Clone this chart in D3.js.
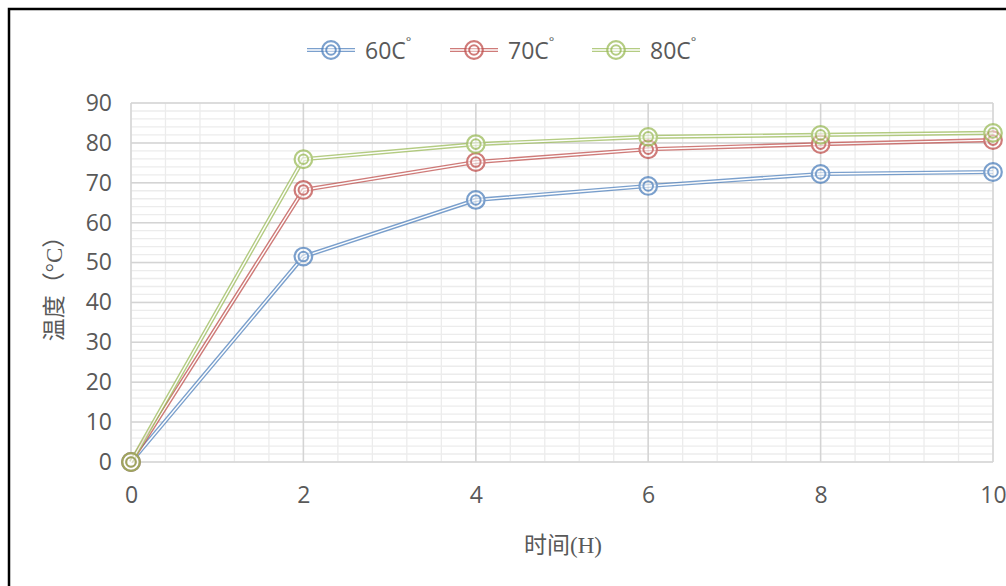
<!DOCTYPE html>
<html>
<head>
<meta charset="utf-8">
<script src="https://cdn.jsdelivr.net/npm/d3@7"></script>
<style>
  body { margin: 0; background: #fff; }
  svg { display: block; }
</style>
</head>
<body>
<svg width="1006" height="586"></svg>
<script>
const svg_ = d3.select('svg');

const W = 1006;
const H = 586;

// dados
const HOURS = [0, 2, 4, 6, 8, 10];
const SERIES_NAMES = ["60C", "70C", "80C"];
const T60 = [0, 51.5, 65.7, 69.2, 72.2, 72.7];
const T70 = [0, 68.2, 75.2, 78.4, 79.7, 80.7];
const T80 = [0, 75.9, 79.7, 81.5, 82.0, 82.5];
const COLORS = ["#4f81bd", "#c0504d", "#9bbb59"];

const X_TICKS = [0, 2, 4, 6, 8, 10];
const Y_TICKS = [0, 10, 20, 30, 40, 50, 60, 70, 80, 90];

const DIMS = {
    MARGINS: { TOP: 103, LEFT: 131, RIGHT: 1006 - 993, BOTTOM: 586 - 462 }
};

const x = d3.scaleLinear().domain([0, 10])
    .range([DIMS.MARGINS.LEFT, W - DIMS.MARGINS.RIGHT]);
const y = d3.scaleLinear().domain([0, 90])
    .range([H - DIMS.MARGINS.BOTTOM, DIMS.MARGINS.TOP]);

const FONT = "'Open Sans', 'Noto Sans', sans-serif";
const SERIF = "'Liberation Serif', 'Noto Sans CJK SC', serif";

// moldura
svg_.append("rect")
    .attr("x", 9).attr("y", 9)
    .attr("width", W + 20).attr("height", H + 20)
    .attr("fill", "none")
    .attr("stroke", "#000")
    .attr("stroke-width", 2.5);

// grade menor
const grid = svg_.append("g");

grid.selectAll("line.minor-x")
    .data(d3.range(0, 10.001, 0.4))
    .join("line")
    .attr("x1", d => x(d)).attr("x2", d => x(d))
    .attr("y1", y(0)).attr("y2", y(90))
    .attr("stroke", "#ececec").attr("stroke-width", 1.3);

grid.selectAll("line.minor-y")
    .data(d3.range(0, 90.001, 2))
    .join("line")
    .attr("x1", x(0)).attr("x2", x(10))
    .attr("y1", d => y(d)).attr("y2", d => y(d))
    .attr("stroke", "#ececec").attr("stroke-width", 1.3);

// grade maior
grid.append("g").selectAll("line")
    .data(X_TICKS)
    .join("line")
    .attr("x1", d => x(d)).attr("x2", d => x(d))
    .attr("y1", y(0)).attr("y2", y(90))
    .attr("stroke", "#d4d4d4").attr("stroke-width", 1.5);

grid.append("g").selectAll("line")
    .data(Y_TICKS)
    .join("line")
    .attr("x1", x(0)).attr("x2", x(10))
    .attr("y1", d => y(d)).attr("y2", d => y(d))
    .attr("stroke", "#d4d4d4").attr("stroke-width", 1.5);

// eixos
const xAxis = svg_.append("g")
    .attr("transform", `translate(0,${y(0)})`)
    .call(d3.axisBottom(x).tickValues(X_TICKS).tickSize(0).tickPadding(24));
const yAxis = svg_.append("g")
    .attr("transform", `translate(${x(0)},0)`)
    .call(d3.axisLeft(y).tickValues(Y_TICKS).tickSize(0).tickPadding(19));

[xAxis, yAxis].forEach(a => {
    a.select(".domain").remove();
    a.selectAll("text")
        .attr("font-family", FONT)
        .attr("font-size", 23)
        .attr("fill", "#595959");
});
xAxis.selectAll("text").attr("dy", "0.75em");

// titulos
svg_.append("text")
    .attr("x", 563).attr("y", 553)
    .attr("text-anchor", "middle")
    .attr("font-family", SERIF)
    .attr("font-size", 23)
    .attr("fill", "#595959")
    .text("时间(H)");

svg_.append("text")
    .attr("transform", `translate(62,283) rotate(-90)`)
    .attr("text-anchor", "middle")
    .attr("font-family", SERIF)
    .attr("font-size", 23)
    .attr("fill", "#595959")
    .text("温度（°C）");

// series
const series = [T60, T70, T80].map((vals, i) => ({
    name: SERIES_NAMES[i],
    color: COLORS[i],
    points: HOURS.map((h, j) => ({ h: h, t: vals[j] }))
}));

const line = d3.line().x(d => x(d.h)).y(d => y(d.t));

const seriesG = svg_.append("g")
    .selectAll("g")
    .data(series)
    .join("g")
    .attr("opacity", 0.75);

// linha dupla
seriesG.append("path")
    .attr("d", d => line(d.points))
    .attr("fill", "none")
    .attr("stroke", d => d.color)
    .attr("stroke-width", 4.2);
seriesG.append("path")
    .attr("d", d => line(d.points))
    .attr("fill", "none")
    .attr("stroke", "#fff")
    .attr("stroke-width", 1.4);

function marker(sel, color) {
    sel.append("circle").attr("r", 8.8)
        .attr("fill", "#fff").attr("fill-opacity", 0.6)
        .attr("stroke", color).attr("stroke-width", 2.2);
    sel.append("circle").attr("r", 4.8)
        .attr("fill", "none")
        .attr("stroke", color).attr("stroke-width", 2);
}

seriesG.each(function (s) {
    d3.select(this).selectAll("g.m")
        .data(s.points)
        .join("g")
        .attr("transform", d => `translate(${x(d.h)},${y(d.t)})`)
        .each(function () { marker(d3.select(this), s.color); });
});

// legenda
const LEGEND_X = [307, 450, 592];
const legend = svg_.append("g")
    .selectAll("g")
    .data(series)
    .join("g")
    .attr("transform", (d, i) => `translate(${LEGEND_X[i]},50)`);

legend.append("line")
    .attr("x1", 0).attr("x2", 48)
    .attr("stroke", d => d.color).attr("stroke-width", 4.2).attr("opacity", 0.75);
legend.append("line")
    .attr("x1", 0).attr("x2", 48)
    .attr("stroke", "#fff").attr("stroke-width", 1.4);
legend.append("g")
    .attr("transform", "translate(24,0)")
    .attr("opacity", 0.75)
    .each(function (d) { marker(d3.select(this), d.color); });

const lt = legend.append("text")
    .attr("x", 58).attr("y", 9)
    .attr("font-family", FONT)
    .attr("font-size", 23)
    .attr("fill", "#595959");
lt.append("tspan").text(d => d.name);
lt.append("tspan")
    .attr("font-size", 13)
    .attr("dy", -13)
    .text("°");
</script>
</body>
</html>
